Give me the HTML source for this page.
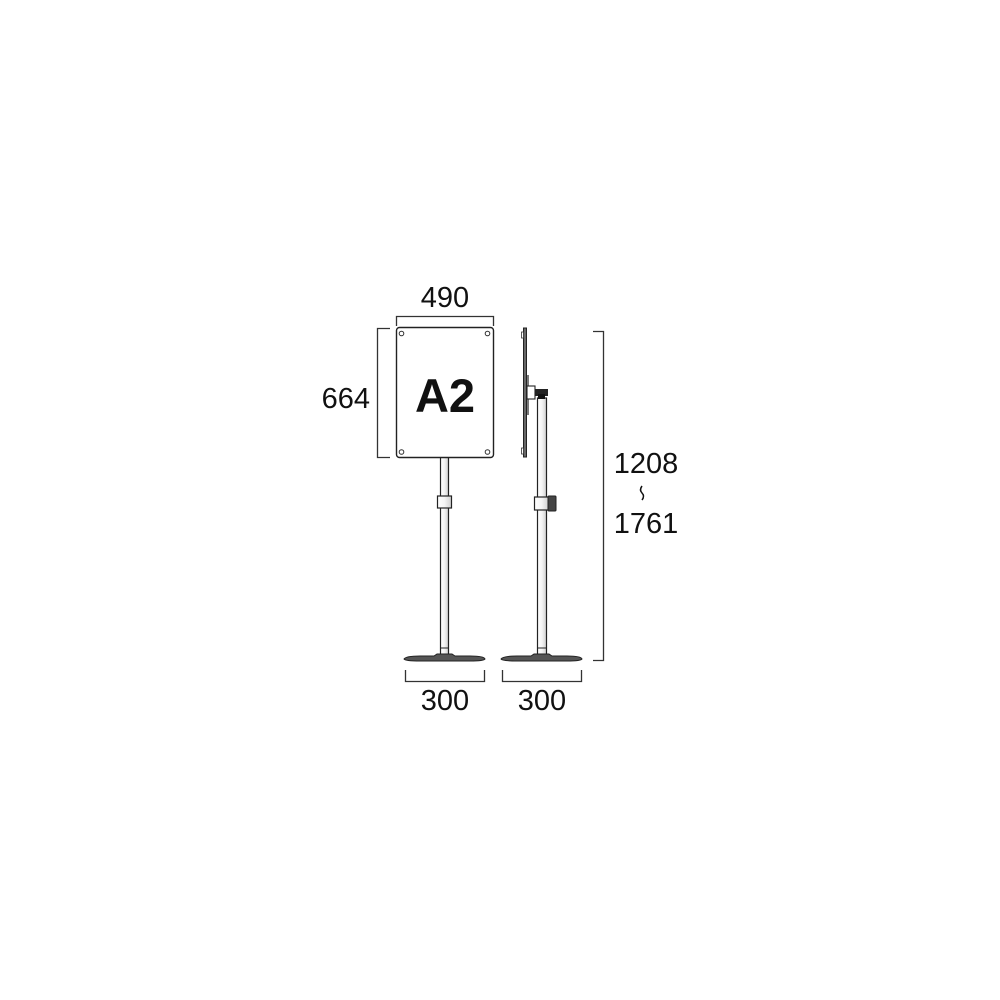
<!DOCTYPE html>
<html><head><meta charset="utf-8"><style>
html,body{margin:0;padding:0;background:#fff;width:1000px;height:1000px;overflow:hidden}
text{font-family:"Liberation Sans",sans-serif;fill:#111}
</style></head><body>
<svg width="1000" height="1000" viewBox="0 0 1000 1000" xmlns="http://www.w3.org/2000/svg">
<defs>
<linearGradient id="pg" x1="0" x2="1"><stop offset="0" stop-color="#fff"/><stop offset="0.5" stop-color="#f4f4f4"/><stop offset="1" stop-color="#cfcfcf"/></linearGradient>
</defs>
<g fill="none" stroke="#333" stroke-width="1.3">
<path d="M396.5 326V316.5H493.5V326"/>
<path d="M390 328.5H377.5V457.5H390"/>
<path d="M593 331.5H603.5V660.5H593"/>
<path d="M405.5 670V681.5H484.5V670"/>
<path d="M502.5 670V681.5H581.5V670"/>
</g>
<text x="445" y="307" font-size="29" text-anchor="middle">490</text>
<text x="370" y="408" font-size="29" text-anchor="end">664</text>
<text x="445" y="710" font-size="29" text-anchor="middle">300</text>
<text x="542" y="710" font-size="29" text-anchor="middle">300</text>
<text x="646" y="473" font-size="29" text-anchor="middle">1208</text>
<path d="M642 486 q-3 4 0 7 q3 3 0 7" fill="none" stroke="#111" stroke-width="1.5"/>
<text x="646" y="533" font-size="29" text-anchor="middle">1761</text>

<rect x="440.5" y="457" width="8" height="40" fill="url(#pg)" stroke="#222" stroke-width="1.2"/>
<rect x="440.5" y="507" width="8" height="150" fill="url(#pg)" stroke="#222" stroke-width="1.2"/>
<line x1="440.5" y1="648" x2="448.5" y2="648" stroke="#222" stroke-width="1"/>
<rect x="437.5" y="496" width="14" height="12" fill="url(#pg)" stroke="#222" stroke-width="1.2"/>
<rect x="396.5" y="327.5" width="97" height="130" rx="3" fill="#fff" stroke="#222" stroke-width="1.4"/>
<g fill="none" stroke="#333" stroke-width="1">
<circle cx="401.5" cy="333.5" r="2.3"/><circle cx="487.5" cy="333.5" r="2.3"/>
<circle cx="401.5" cy="452" r="2.3"/><circle cx="487.5" cy="452" r="2.3"/>
</g>
<text x="445" y="412" font-size="47" font-weight="bold" text-anchor="middle">A2</text>
<path d="M404 659 Q406 656 420 656 H434 L437 654 H452 L455 656 H470 Q484 656 485 659 Q484 661 470 661 H420 Q405 661 404 659Z" fill="#555" stroke="#222" stroke-width="1"/>

<rect x="537.5" y="398" width="9" height="259" fill="url(#pg)" stroke="#222" stroke-width="1.2"/>
<line x1="537.5" y1="648" x2="546.5" y2="648" stroke="#222" stroke-width="1"/>
<rect x="534.5" y="497" width="14" height="13" fill="url(#pg)" stroke="#222" stroke-width="1.2"/>
<rect x="548" y="496" width="8" height="15" rx="1" fill="#444" stroke="#222"/>
<rect x="523.5" y="328" width="3" height="129" fill="#666" stroke="#222" stroke-width="1"/>
<rect x="521.5" y="332" width="2" height="6" fill="#fff" stroke="#333" stroke-width="0.8"/>
<rect x="521.5" y="448" width="2" height="6" fill="#fff" stroke="#333" stroke-width="0.8"/>
<rect x="527" y="375" width="2" height="40" fill="#777"/>
<rect x="527" y="386" width="8" height="13" fill="#fff" stroke="#222" stroke-width="1.1"/>
<rect x="535" y="389" width="13" height="7" fill="#222"/>
<rect x="538" y="394" width="7" height="5" fill="#111"/>
<path d="M501 659 Q503 656 517 656 H531 L534 654 H549 L552 656 H567 Q581 656 582 659 Q581 661 567 661 H517 Q502 661 501 659Z" fill="#555" stroke="#222" stroke-width="1"/>
</svg>
</body></html>
